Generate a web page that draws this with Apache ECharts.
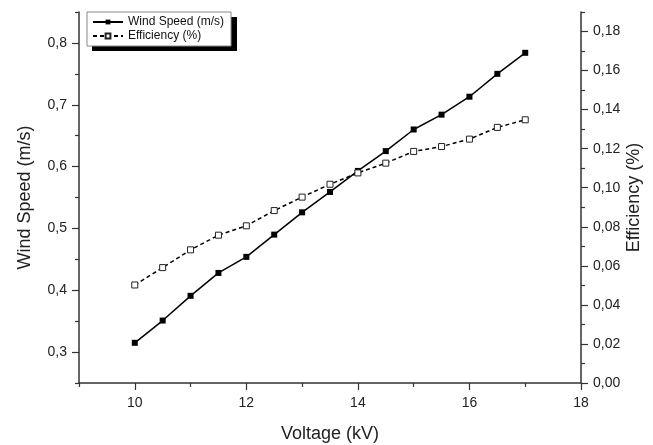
<!DOCTYPE html>
<html>
<head>
<meta charset="utf-8">
<script src="https://cdn.jsdelivr.net/npm/echarts@6/dist/echarts.min.js"></script>
<style>html,body{margin:0;padding:0;background:#fff}#c{width:653px;height:445px}</style>
</head>
<body>
<div id="c"></div>
<script>
const voltage = [10, 10.5, 11, 11.5, 12, 12.5, 13, 13.5, 14, 14.5, 15, 15.5, 16, 16.5, 17];
const windSpeed = [0.315, 0.351, 0.391, 0.428, 0.454, 0.490, 0.526, 0.559, 0.593, 0.625, 0.660, 0.684, 0.713, 0.750, 0.784];
const efficiency = [0.0502, 0.0591, 0.0682, 0.0757, 0.0805, 0.0883, 0.0952, 0.1018, 0.1076, 0.1126, 0.1186, 0.1211, 0.1249, 0.1309, 0.1348];
const xMajor = [10, 12, 14, 16, 18];
const xMinor = [9, 11, 13, 15, 17];
const leftMajor = [0.3, 0.4, 0.5, 0.6, 0.7, 0.8];
const leftMinor = [0.25, 0.35, 0.45, 0.55, 0.65, 0.75, 0.85];
const rightMajor = [0, 0.02, 0.04, 0.06, 0.08, 0.10, 0.12, 0.14, 0.16, 0.18];
const rightMinor = [0.01, 0.03, 0.05, 0.07, 0.09, 0.11, 0.13, 0.15, 0.17, 0.19];

const axisColor = '#333';
const font = 'Liberation Sans, Arial, sans-serif';
const comma = (v, d) => v.toFixed(d).replace('.', ',');

const chart = echarts.init(document.getElementById('c'));
chart.setOption({
  animation: false,
  backgroundColor: '#fff',
  textStyle: { fontFamily: font },
  grid: { left: 79, right: 72, top: 12, bottom: 62, containLabel: false, outerBoundsMode: 'none' },
  graphic: [{
    type: 'rect', left: 92, top: 17, z: 1,
    shape: { width: 145, height: 34 },
    style: { fill: '#000' }
  }],
  legend: {
    left: 87, top: 12, orient: 'vertical', z: 10,
    padding: [4, 7, 4, 5], itemGap: 2, itemWidth: 30, itemHeight: 6,
    backgroundColor: '#fff', borderColor: '#888', borderWidth: 1,
    textStyle: { fontSize: 12, color: '#111', fontFamily: font },
    data: ['Wind Speed (m/s)', 'Efficiency (%)']
  },
  xAxis: [{
    type: 'value', min: 9, max: 18,
    name: 'Voltage (kV)', nameLocation: 'middle', nameGap: 42,
    nameTextStyle: { fontSize: 18, color: '#222' },
    axisLine: { show: true, lineStyle: { color: axisColor, width: 1.5 } },
    axisTick: { show: true, customValues: xMajor, length: 7, lineStyle: { color: axisColor, width: 1.2 } },
    axisLabel: { customValues: xMajor, fontSize: 14, color: '#222', margin: 13, formatter: v => String(v) },
    splitLine: { show: false }
  }, {
    type: 'value', min: 9, max: 18, position: 'bottom',
    axisLine: { show: false },
    axisTick: { show: true, customValues: xMinor, length: 4, lineStyle: { color: axisColor, width: 1.2 } },
    axisLabel: { show: false }, splitLine: { show: false }
  }],
  yAxis: [{
    type: 'value', min: 0.25, max: 0.85, position: 'left',
    name: 'Wind Speed (m/s)', nameLocation: 'middle', nameGap: 45, nameRotate: 90,
    nameTextStyle: { fontSize: 18, color: '#222' },
    axisLine: { show: true, lineStyle: { color: axisColor, width: 1.5 } },
    axisTick: { show: true, customValues: leftMajor, length: 7, lineStyle: { color: axisColor, width: 1.2 } },
    axisLabel: { customValues: leftMajor, fontSize: 14, color: '#222', margin: 12, formatter: v => comma(v, 1) },
    splitLine: { show: false }
  }, {
    type: 'value', min: 0, max: 0.19, position: 'right',
    name: 'Efficiency (%)', nameLocation: 'middle', nameGap: 44, nameRotate: 90, nameMoveOverlap: false,
    nameTextStyle: { fontSize: 18, color: '#222' },
    axisLine: { show: true, lineStyle: { color: axisColor, width: 1.5 } },
    axisTick: { show: true, customValues: rightMajor, length: 7, lineStyle: { color: axisColor, width: 1.2 } },
    axisLabel: { customValues: rightMajor, fontSize: 14, color: '#222', margin: 12, formatter: v => comma(v, 2) },
    splitLine: { show: false }
  }, {
    type: 'value', min: 0.25, max: 0.85, position: 'left',
    axisLine: { show: false },
    axisTick: { show: true, customValues: leftMinor, length: 4, lineStyle: { color: axisColor, width: 1.2 } },
    axisLabel: { show: false }, splitLine: { show: false }
  }, {
    type: 'value', min: 0, max: 0.19, position: 'right',
    axisLine: { show: false },
    axisTick: { show: true, customValues: rightMinor, length: 4, lineStyle: { color: axisColor, width: 1.2 } },
    axisLabel: { show: false }, splitLine: { show: false }
  }],
  series: [{
    name: 'Wind Speed (m/s)', type: 'line', xAxisIndex: 0, yAxisIndex: 0,
    data: voltage.map((v, i) => [v, windSpeed[i]]),
    symbol: 'rect', symbolSize: 6,
    lineStyle: { color: '#000', width: 1.5 },
    itemStyle: { color: '#000', borderColor: '#000', borderWidth: 0 }
  }, {
    name: 'Efficiency (%)', type: 'line', xAxisIndex: 0, yAxisIndex: 1,
    data: voltage.map((v, i) => [v, efficiency[i]]),
    symbol: 'rect', symbolSize: 6,
    lineStyle: { color: '#000', width: 1.5, type: [4, 3] },
    itemStyle: { color: '#fff', borderColor: '#222', borderWidth: 1 }
  }]
});
</script>
</body>
</html>
